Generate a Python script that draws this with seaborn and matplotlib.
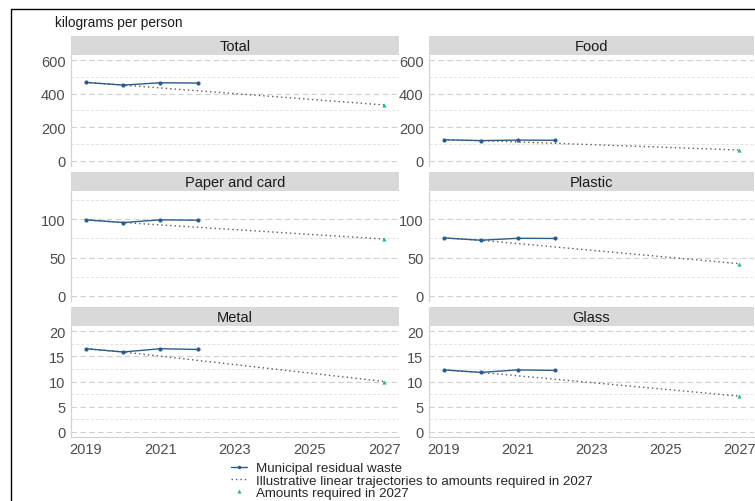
import numpy as np
import pandas as pd
import matplotlib
matplotlib.use("Agg")
import matplotlib.pyplot as plt
import seaborn as sns
from matplotlib.lines import Line2D
from matplotlib.patches import Rectangle

# ---------------- data ----------------
categories = ["Total", "Food", "Paper and card", "Plastic", "Metal", "Glass"]
years = [2019, 2020, 2021, 2022]
total = [467, 451, 465, 463]
food = [126, 121, 124, 123]
paper = [99, 95.5, 99, 98.5]
plastic = [75.5, 72.5, 75, 74.8]
metal = [16.5, 15.85, 16.5, 16.35]
glass = [12.3, 11.8, 12.3, 12.2]
target_year = 2027
targets = [333, 65, 74, 42, 10, 7.1]
row_yticks = [[0, 200, 400, 600], [0, 50, 100], [0, 5, 10, 15, 20]]
row_ylims = [(-30, 630), (-6.5, 136.5), (-1, 21)]
x_ticks = [2019, 2021, 2023, 2025, 2027]
legend_labels = ["Municipal residual waste",
                 "Illustrative linear trajectories to amounts required in 2027",
                 "Amounts required in 2027"]
y_title = "kilograms per person"

series = [total, food, paper, plastic, metal, glass]

rows = []
for cat, vals in zip(categories, series):
    for yr, v in zip(years, vals):
        rows.append({"category": cat, "year": yr, "value": v})
hist = pd.DataFrame(rows)

traj_rows = []
for cat, vals, t in zip(categories, series, targets):
    for yr, v in zip([years[0], years[1], target_year], [vals[0], vals[1], t]):
        traj_rows.append({"category": cat, "year": yr, "value": v})
traj = pd.DataFrame(traj_rows)
tgt = pd.DataFrame({"category": categories, "year": [target_year] * 6, "value": targets})

# ---------------- style ----------------
sns.set_style("white")
plt.rcParams["font.family"] = ["Liberation Sans", "DejaVu Sans"]

W, H = 755, 502
fig = plt.figure(figsize=(W / 100, H / 100), dpi=100)

line_col = "#2b5d8a"
tgt_col = "#2ab3a0"
traj_col = "#5a5a5a"
tick_col = "#4d4d4d"
TICK_FS = 10.5

col_x = [(71, 399), (429, 754)]
row_y = [(56, 167), (192, 302), (327, 438)]
strip_h = 19.5

def fx(px):
    return px / W

def fy(py):
    return 1 - py / H

for i, cat in enumerate(categories):
    r, c = divmod(i, 2)
    x0, x1 = col_x[c]
    y0, y1 = row_y[r]
    ax = fig.add_axes([fx(x0), fy(y1), fx(x1 - x0), (y1 - y0) / H])
    ax.set_facecolor("white")

    ymin, ymax = row_ylims[r]
    yt = row_yticks[r]
    ax.set_ylim(ymin, ymax)
    ax.set_xlim(2018.6, 2027.4)

    step = yt[1] - yt[0]
    for v in yt:
        ax.axhline(v, color="#cfcfcf", lw=0.8, dashes=(5, 3), zorder=0)
    for v in np.arange(yt[0] + step / 2, ymax, step):
        ax.axhline(v, color="#e2e2e2", lw=0.7, dashes=(3, 2), zorder=0)

    sub_t = traj[traj.category == cat]
    sns.lineplot(data=sub_t, x="year", y="value", ax=ax, color=traj_col,
                 linestyle=(0, (1, 2.2)), lw=1.0, legend=False, zorder=2)
    sub_h = hist[hist.category == cat]
    sns.lineplot(data=sub_h, x="year", y="value", ax=ax, color=line_col,
                 marker="o", markersize=3.0, markeredgewidth=0, lw=1.0,
                 legend=False, zorder=3)
    sub_g = tgt[tgt.category == cat]
    sns.scatterplot(data=sub_g, x="year", y="value", ax=ax, color=tgt_col,
                    marker="^", s=9, linewidth=0, legend=False, zorder=4)

    ax.set_xlabel("")
    ax.set_ylabel("")
    ax.set_yticks(yt)
    ax.set_yticklabels([str(v) for v in yt])
    ax.set_xticks(x_ticks)
    ax.tick_params(axis="y", length=3, width=0.6, color="#bbbbbb",
                   labelsize=TICK_FS, labelcolor=tick_col, pad=1)
    ax.tick_params(axis="x", length=3, width=0.6, color="#bbbbbb",
                   labelsize=TICK_FS, labelcolor=tick_col, pad=0.5)
    for s in ["top", "right"]:
        ax.spines[s].set_visible(False)
    ax.spines["left"].set_color("#d4d4d4")
    ax.spines["left"].set_linewidth(0.9)
    if r == 2:
        ax.set_xticklabels([str(v) for v in x_ticks])
        ax.spines["bottom"].set_color("#d4d4d4")
        ax.spines["bottom"].set_linewidth(0.9)
    else:
        ax.set_xticklabels([])
        ax.tick_params(axis="x", length=0)
        ax.spines["bottom"].set_visible(False)

    # strip
    sax = fig.add_axes([fx(x0), fy(y0), fx(x1 - x0), strip_h / H])
    sax.set_facecolor("#d9d9d9")
    sax.set_xticks([])
    sax.set_yticks([])
    for s in sax.spines.values():
        s.set_visible(False)
    sax.text(0.5, 0.46, cat,
             ha="center", va="center", fontsize=TICK_FS, color="#1a1a1a",
             transform=sax.transAxes)

fig.text(fx(55), fy(23), y_title, ha="left", va="center", fontsize=9.8, color="#1a1a1a")

handles = [
    Line2D([0], [0], color=line_col, lw=1.0, marker="o", markersize=2.5, markeredgewidth=0),
    Line2D([0], [0], color=traj_col, lw=1.0, linestyle=(0, (1, 2.2))),
    Line2D([0], [0], color=tgt_col, lw=0, marker="^", markersize=3, markeredgewidth=0),
]
fig.legend(handles, legend_labels, loc="upper left",
           bbox_to_anchor=(fx(231), fy(463)), frameon=False, fontsize=9.6,
           handlelength=1.2, handletextpad=0.7, labelspacing=0.0,
           borderpad=0, borderaxespad=0)

fig.patches.append(Rectangle((fx(10.5), -0.2), 2, fy(9.5) + 0.2, transform=fig.transFigure,
                             fill=False, edgecolor="black", lw=1.0))

fig.savefig("out.png", dpi=100)
